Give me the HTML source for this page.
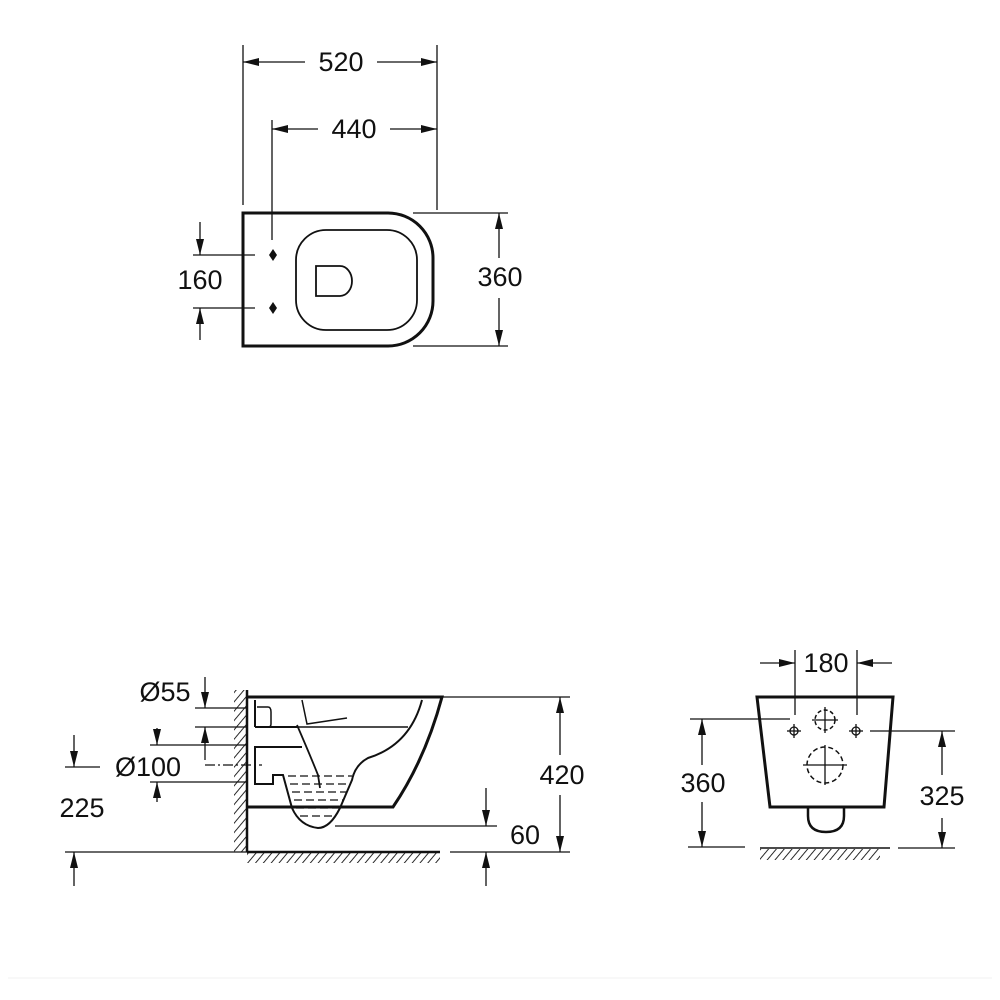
<!DOCTYPE html>
<html><head><meta charset="utf-8"><style>
html,body{margin:0;padding:0;background:#fff;}
svg{display:block}
text{font-family:"Liberation Sans",Arial,sans-serif;font-size:27px;fill:#111;text-anchor:middle;dominant-baseline:central}
</style></head><body>
<svg width="1000" height="1000" viewBox="0 0 1000 1000" xmlns="http://www.w3.org/2000/svg">
<defs>
<marker id="a" markerWidth="16" markerHeight="10" refX="16" refY="5" orient="auto" markerUnits="userSpaceOnUse">
<path d="M0,1 L16,5 L0,9 Z" fill="#111"/></marker>
<pattern id="h" width="6" height="6" patternUnits="userSpaceOnUse" patternTransform="rotate(40)">
<line x1="0" y1="0" x2="0" y2="6" stroke="#111" stroke-width="1.8"/></pattern>
</defs>
<g stroke="#111" fill="none" stroke-width="1.3">
<!-- TOP VIEW -->
<line x1="243" y1="45" x2="243" y2="205"/>
<line x1="437" y1="45" x2="437" y2="210"/>
<line x1="305" y1="62" x2="243" y2="62" marker-end="url(#a)"/>
<line x1="377" y1="62" x2="437" y2="62" marker-end="url(#a)"/>
<line x1="272" y1="120" x2="272" y2="240"/>
<line x1="318" y1="129" x2="272" y2="129" marker-end="url(#a)"/>
<line x1="390" y1="129" x2="437" y2="129" marker-end="url(#a)"/>
<line x1="413" y1="213" x2="508" y2="213"/>
<line x1="413" y1="346" x2="508" y2="346"/>
<line x1="499" y1="258" x2="499" y2="213" marker-end="url(#a)"/>
<line x1="499" y1="298" x2="499" y2="346" marker-end="url(#a)"/>
<line x1="193" y1="255" x2="255" y2="255"/>
<line x1="193" y1="308" x2="255" y2="308"/>
<line x1="200" y1="222" x2="200" y2="255" marker-end="url(#a)"/>
<line x1="200" y1="340" x2="200" y2="308" marker-end="url(#a)"/>
<path d="M243,213 H388 A45,45 0 0 1 433,258 V301 A45,45 0 0 1 388,346 H243 Z" stroke-width="3"/>
<rect x="296" y="230" width="121" height="100" rx="30" stroke-width="1.8"/>
<path d="M316,266 H340 A12,15 0 0 1 340,296 H316 Z" stroke-width="1.8"/>
<path d="M273,249 L277,255 L273,261 L269,255 Z M273,302 L277,308 L273,314 L269,308 Z" fill="#111" stroke="none"/>
<!-- SIDE VIEW -->
<rect x="234" y="690" width="13" height="162" fill="url(#h)" stroke="none"/>
<rect x="247" y="852" width="193" height="11" fill="url(#h)" stroke="none"/>
<line x1="247" y1="690" x2="247" y2="852" stroke-width="2.5"/>
<line x1="247" y1="852" x2="440" y2="852" stroke-width="2.5"/>
<path d="M247,697 H442 Q425,760 393,807 H247" stroke-width="3"/>
<path d="M422,700 Q410,745 368,758 Q355,765 352,780 L340,808 Q330,828 318,828 Q300,826 292,808 L283,775 H273 V784 H255 V747 H302" stroke-width="2"/>
<line x1="255" y1="700" x2="255" y2="727" stroke-width="2"/>
<line x1="255" y1="727" x2="298" y2="727" stroke-width="2"/>
<line x1="298" y1="727" x2="408" y2="727" stroke-width="1.5"/>
<path d="M297,725 Q310,755 318,775 L320,788" stroke-width="1.8"/>
<path d="M302,700 L307,724 L347,718" stroke-width="1.5"/>
<path d="M257,707 H268 Q271,707 271,712 V724 Q271,727 268,727 H257" stroke-width="1.5"/>
<g stroke-dasharray="8,4" stroke-width="1.2">
<line x1="288" y1="776" x2="352" y2="776"/>
<line x1="290" y1="784" x2="350" y2="784"/>
<line x1="292" y1="792" x2="347" y2="792"/>
<line x1="294" y1="800" x2="344" y2="800"/>
<line x1="296" y1="808" x2="341" y2="808"/>
<line x1="300" y1="816" x2="336" y2="816"/>
</g>
<line x1="442" y1="697" x2="570" y2="697"/>
<line x1="450" y1="852" x2="570" y2="852"/>
<line x1="560" y1="755" x2="560" y2="697" marker-end="url(#a)"/>
<line x1="560" y1="795" x2="560" y2="852" marker-end="url(#a)"/>
<line x1="335" y1="826" x2="497" y2="826"/>
<line x1="486" y1="788" x2="486" y2="826" marker-end="url(#a)"/>
<line x1="486" y1="886" x2="486" y2="852" marker-end="url(#a)"/>
<line x1="65" y1="767" x2="100" y2="767"/>
<line x1="65" y1="852" x2="247" y2="852"/>
<line x1="74" y1="735" x2="74" y2="767" marker-end="url(#a)"/>
<line x1="74" y1="886" x2="74" y2="852" marker-end="url(#a)"/>
<line x1="195" y1="708" x2="247" y2="708"/>
<line x1="195" y1="727" x2="247" y2="727"/>
<line x1="205" y1="677" x2="205" y2="708" marker-end="url(#a)"/>
<line x1="205" y1="760" x2="205" y2="727" marker-end="url(#a)"/>
<line x1="150" y1="745" x2="247" y2="745"/>
<line x1="150" y1="782" x2="247" y2="782"/>
<line x1="157" y1="728" x2="157" y2="745" marker-end="url(#a)"/>
<line x1="157" y1="802" x2="157" y2="782" marker-end="url(#a)"/>
<line x1="205" y1="765" x2="262" y2="765" stroke-dasharray="10,3,2,3"/>
<!-- FRONT VIEW -->
<path d="M757,697 H893 L884,807 H770 Z" stroke-width="3"/>
<path d="M808,808 V816 Q808,832 826,832 Q844,832 844,816 V808" stroke-width="2.5"/>
<circle cx="825" cy="720" r="10" stroke-dasharray="4,2.5" stroke-width="1.5"/>
<line x1="812" y1="720" x2="838" y2="720"/><line x1="825" y1="707" x2="825" y2="733"/>
<circle cx="825" cy="765" r="18" stroke-dasharray="5,3" stroke-width="1.5"/>
<line x1="803" y1="765" x2="847" y2="765"/><line x1="825" y1="745" x2="825" y2="785"/>
<circle cx="794" cy="731" r="4"/><line x1="787" y1="731" x2="801" y2="731"/><line x1="794" y1="724" x2="794" y2="738"/>
<circle cx="856" cy="731" r="4"/><line x1="849" y1="731" x2="863" y2="731"/><line x1="856" y1="724" x2="856" y2="738"/>
<line x1="795" y1="650" x2="795" y2="715"/>
<line x1="857" y1="650" x2="857" y2="715"/>
<line x1="760" y1="663" x2="795" y2="663" marker-end="url(#a)"/>
<line x1="892" y1="663" x2="857" y2="663" marker-end="url(#a)"/>
<line x1="690" y1="719" x2="790" y2="719"/>
<line x1="688" y1="847" x2="745" y2="847"/>
<line x1="702" y1="765" x2="702" y2="719" marker-end="url(#a)"/>
<line x1="702" y1="802" x2="702" y2="847" marker-end="url(#a)"/>
<line x1="870" y1="731" x2="955" y2="731"/>
<line x1="898" y1="848" x2="955" y2="848"/>
<line x1="942" y1="775" x2="942" y2="731" marker-end="url(#a)"/>
<line x1="942" y1="818" x2="942" y2="848" marker-end="url(#a)"/>
<line x1="760" y1="848" x2="890" y2="848" stroke-width="1.5"/>
<rect x="760" y="849" width="120" height="11" fill="url(#h)" stroke="none"/>
<line x1="8" y1="978" x2="992" y2="978" stroke="#f2f2f2" stroke-width="1"/>
</g>
<text x="341" y="62">520</text>
<text x="354" y="129">440</text>
<text x="500" y="277">360</text>
<text x="200" y="280">160</text>
<text x="165" y="692">Ø55</text>
<text x="148" y="767">Ø100</text>
<text x="82" y="808">225</text>
<text x="562" y="775">420</text>
<text x="525" y="835">60</text>
<text x="826" y="663">180</text>
<text x="703" y="783">360</text>
<text x="942" y="796">325</text>
</svg>
</body></html>
